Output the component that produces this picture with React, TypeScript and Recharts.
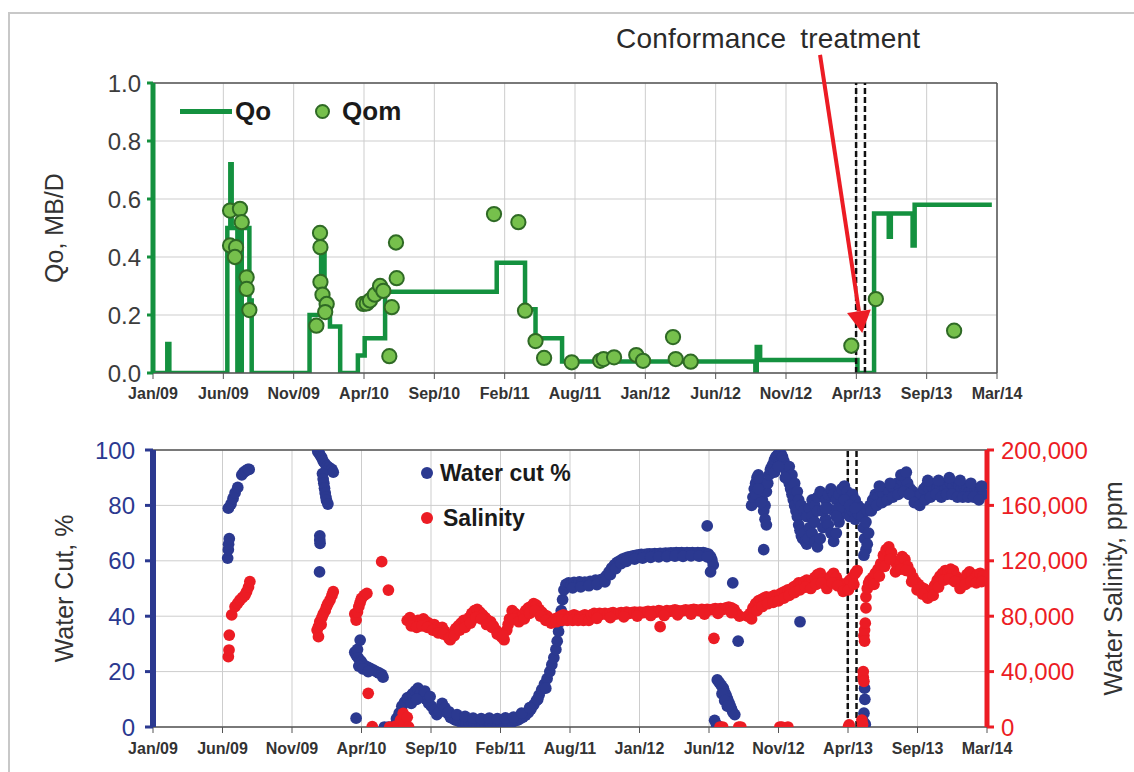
import {
  ComposedChart,
  Line,
  Scatter,
  XAxis,
  YAxis,
  ZAxis,
  CartesianGrid,
  ReferenceLine,
} from 'recharts';

type Row = [number, number];

// Date axis: months since Jan 2009, 12 equal intervals up to Mar 2014
const tickLabels = [
  'Jan/09', 'Jun/09', 'Nov/09', 'Apr/10', 'Sep/10', 'Feb/11', 'Aug/11',
  'Jan/12', 'Jun/12', 'Nov/12', 'Apr/13', 'Sep/13', 'Mar/14',
];
const monthSpan = 62;
const monthTicks = tickLabels.map((_, i) => (i * monthSpan) / (tickLabels.length - 1));

const qoTicks = [0, 0.2, 0.4, 0.6, 0.8, 1.0];
const waterCutTicks = [0, 20, 40, 60, 80, 100];
const salinityTicks = [0, 40, 80, 120, 160, 200]; // thousand ppm

// Conformance treatment window (months)
const treatmentMonths = [51.65, 52.3];

// Qo allocation, MB/D – value holds until the next change
const qoSteps: Row[] = [
  [0, 0], [1.05, 0.1], [1.2, 0],
  [5.46, 0.5], [5.68, 0.72], [5.78, 0.5], [6.2, 0], [6.52, 0.5], [7.08, 0.25], [7.25, 0],
  [11.5, 0.2], [12.35, 0.42], [12.6, 0.2], [13.0, 0.16], [13.75, 0],
  [15.05, 0.06], [15.55, 0.12], [17.05, 0.28],
  [25.25, 0.38], [27.33, 0.22], [28.1, 0.12], [30.05, 0.04],
  [44.25, 0], [44.35, 0.09], [44.6, 0.045],
  [51.75, 0], [52.97, 0.55],
  [54.05, 0.47], [54.2, 0.55], [55.8, 0.44], [55.95, 0.58],
  [61.62, 0.58],
];

// Qom measured rates, MB/D
const qomSamples: Row[] = [
  [5.66, 0.56], [6.39, 0.566], [6.52, 0.52], [5.66, 0.44], [6.1, 0.434], [6.02, 0.4],
  [6.88, 0.33], [6.88, 0.29], [7.08, 0.217],
  [12.27, 0.483], [12.3, 0.434], [12.3, 0.314], [12.45, 0.27], [12.76, 0.238], [12.65, 0.21], [12.0, 0.163],
  [15.45, 0.238], [15.7, 0.24], [15.94, 0.25], [16.3, 0.27], [16.68, 0.3], [16.92, 0.283],
  [17.85, 0.45], [17.9, 0.327], [17.54, 0.227], [17.36, 0.058],
  [25.05, 0.548], [26.84, 0.52], [27.33, 0.215], [28.1, 0.11], [28.73, 0.052],
  [30.76, 0.037], [32.85, 0.042], [33.1, 0.048], [33.87, 0.054], [35.5, 0.062], [36.0, 0.042],
  [38.2, 0.124], [38.4, 0.048], [39.5, 0.039],
  [51.3, 0.094], [53.1, 0.255], [58.85, 0.146],
];

// Water cut, %
const waterCut: Row[] = [
  // 2009 tests
  [5.55, 61], [5.6, 64], [5.62, 66], [5.67, 68], [5.6, 79], [5.8, 80.5], [5.95, 82.5], [6.1, 84.5],
  [6.3, 86.5], [6.6, 91], [6.75, 92], [6.9, 92.5], [7.05, 93], [7.15, 93],
  [12.25, 99.5], [12.35, 98.8], [12.45, 98], [12.55, 97.2], [12.65, 96], [12.8, 95], [12.95, 94.2],
  [13.1, 93.6], [13.3, 93], [13.4, 92], [12.6, 91.5], [12.65, 89.5], [12.7, 88], [12.75, 86.2],
  [12.8, 84.5], [12.85, 83], [12.9, 81.8], [13.0, 80.5], [12.4, 69], [12.4, 67.5], [12.42, 66.3], [12.38, 56],
  // 2010 restart
  [15.1, 3.2], [15.0, 27], [15.1, 26], [15.2, 28], [15.4, 31.4], [15.25, 25], [15.4, 24], [15.5, 23.5],
  [15.6, 22.5], [15.8, 22], [16.0, 21.5], [16.2, 21], [16.4, 20.5], [16.6, 20], [16.8, 19.5], [17.0, 19],
  [17.1, 18], [15.3, 22], [15.6, 21], [16.0, 20],
  [17.2, 0], [17.5, 0], [17.9, 0.3],
  [18.1, 3], [18.3, 5], [18.5, 7.5], [18.7, 9], [18.9, 10.5], [19.1, 11], [19.3, 12], [19.5, 13],
  [19.7, 14], [19.9, 12.5], [20.1, 11], [20.3, 10], [20.5, 8.5], [20.7, 7.5], [20.9, 6], [21.1, 4.5],
  [21.3, 5.5], [21.5, 8.5], [21.7, 7], [21.9, 5], [22.1, 3.5], [22.3, 3], [22.5, 2.5], [22.7, 2.2],
  [22.9, 1.8], [23.1, 2], [23.3, 1.6], [23.5, 1.4], [23.7, 1.8], [23.9, 1.2], [24.1, 1], [24.3, 1.3],
  [24.5, 0.9], [24.7, 1.2], [24.9, 1.5], [25.1, 1], [25.3, 1.3], [25.5, 1.7], [25.7, 1.1], [25.9, 1.4],
  [26.1, 1], [26.3, 1.2], [26.5, 1.5], [26.7, 1.8], [26.9, 2.2], [27.1, 2.5], [27.3, 3], [27.5, 3.6],
  [27.7, 4.3], [27.9, 5.2], [28.1, 6.5], [28.3, 8], [28.5, 9.5], [28.7, 11.5], [28.9, 13.5], [29.1, 15.5],
  [29.3, 17.5], [29.5, 20], [29.65, 22.5], [29.8, 25], [29.95, 28], [30.05, 31], [30.15, 34.5],
  [30.25, 38], [30.35, 42], [30.45, 46], [30.55, 49.5], [30.7, 51.5],
  [19.2, 8.5], [19.6, 10], [20.2, 13], [20.6, 11], [22.0, 5.5], [22.6, 4.5], [23.2, 3.8], [23.8, 3.2],
  [24.4, 3], [25.0, 3.2], [25.6, 3], [26.2, 3.3], [26.8, 3.6], [27.4, 5], [28.0, 7], [28.6, 10], [29.2, 14],
  // 2011-2012 plateau
  [30.9, 52], [31.1, 51.3], [31.3, 52.2], [31.5, 51.6], [31.7, 52.4], [31.9, 51.8], [32.1, 52.3],
  [32.3, 52], [32.5, 52.6], [32.7, 52.4], [32.9, 53], [33.1, 52.6], [33.3, 53.2], [33.5, 53.6],
  [33.7, 54.6], [33.9, 56], [34.1, 57.4], [34.3, 58.5], [34.5, 59.4], [34.7, 60], [34.9, 60.6],
  [35.1, 61], [35.3, 61.3], [35.5, 61.5], [35.7, 61.8], [35.9, 62], [36.1, 62.1], [36.3, 62.3],
  [36.5, 62.2], [36.7, 62.4], [36.9, 62.5], [37.1, 62.4], [37.3, 62.6], [37.5, 62.5], [37.7, 62.7],
  [37.9, 62.6], [38.1, 62.8], [38.3, 62.7], [38.5, 62.9], [38.7, 62.8], [38.9, 63], [39.1, 62.9],
  [39.3, 63], [39.5, 62.8], [39.7, 63], [39.9, 62.9], [40.1, 63], [40.3, 62.8], [40.5, 63], [40.7, 62.9],
  [40.9, 63], [41.1, 62.7], [41.3, 62.4], [41.45, 61.5], [41.55, 60.3], [41.65, 58.5],
  [31.2, 50.2], [31.8, 50.6], [32.4, 51], [33.0, 51.4], [33.6, 52.4], [34.0, 55], [34.4, 57.2],
  [34.8, 59], [35.2, 59.8], [35.8, 60.6], [36.4, 61], [37.0, 61.2], [37.6, 61.4], [38.2, 61.5],
  [38.8, 61.7], [39.4, 61.6], [40.0, 61.8], [40.6, 61.7], [41.2, 61.4],
  // mid-2012 shut-in
  [41.2, 72.6], [41.45, 56], [43.1, 52], [43.5, 31], [45.4, 64], [48.1, 38],
  [41.75, 2.4], [41.9, 0.8], [42.05, 0.3], [41.95, 17], [42.1, 16], [42.25, 15], [42.4, 14], [42.5, 12.5],
  [42.6, 11.5], [42.7, 10.2], [42.8, 9], [42.9, 7.8], [43.0, 6.6], [43.1, 5.4], [43.25, 4.5],
  [42.3, 12], [42.5, 9.5], [42.7, 7.5],
  // late 2012 - early 2013
  [44.5, 80], [44.6, 83], [44.7, 86], [44.8, 88], [44.9, 90], [45.0, 91], [45.1, 89], [45.2, 86],
  [45.3, 82], [45.4, 78], [45.5, 75], [45.6, 73], [45.5, 80], [45.6, 85], [45.7, 88], [45.8, 91],
  [45.9, 93], [46.0, 94], [46.1, 95], [46.2, 96.5], [46.3, 97.5], [46.4, 98], [46.5, 98.5], [46.6, 99],
  [46.7, 98.5], [46.8, 97.5], [46.9, 96], [47.0, 94], [47.1, 92], [47.2, 90], [47.3, 88], [47.4, 86],
  [47.5, 84], [47.6, 82], [47.7, 80], [47.8, 78], [47.9, 76], [48.0, 73], [48.1, 71], [48.2, 69],
  [48.3, 68], [48.4, 70], [48.5, 67], [48.6, 66], [48.7, 68],
  [47.3, 94], [47.5, 91], [47.7, 88], [47.9, 85], [48.0, 82], [48.2, 80], [48.4, 78], [48.6, 76],
  [48.8, 79], [49.0, 82], [49.2, 80], [49.4, 83], [49.6, 85], [49.8, 84], [50.0, 82], [50.2, 84],
  [50.4, 86], [50.6, 84], [50.8, 82], [51.0, 84], [51.2, 86], [51.4, 87], [51.6, 85], [51.8, 83],
  [52.0, 84], [52.2, 82], [52.4, 80],
  [48.8, 72], [49.0, 70], [49.2, 67], [49.4, 65], [49.6, 68], [49.8, 72], [50.0, 75], [50.2, 73],
  [50.4, 70], [50.6, 67], [50.8, 70], [51.0, 74], [51.2, 77], [51.4, 79], [51.6, 77], [51.8, 76],
  [52.0, 78], [52.2, 75], [52.4, 77], [52.6, 79],
  [49.0, 76], [49.4, 78], [49.8, 78], [50.2, 79], [50.6, 78], [51.0, 79], [51.4, 82], [51.8, 80], [52.2, 79],
  [44.8, 84], [45.0, 86], [45.2, 81], [46.2, 92], [46.5, 94], [47.0, 90], [49.2, 74], [50.0, 79], [50.8, 76],
  // around the treatment
  [52.7, 76], [52.8, 72], [52.9, 68], [53.0, 64], [53.1, 66], [53.2, 70], [53.0, 74], [53.1, 78],
  [52.85, 62], [52.9, 14], [52.92, 10], [52.85, 5], [52.8, 2], [52.95, 1],
  // after treatment
  [53.3, 80], [53.5, 82], [53.7, 84], [53.9, 83], [54.1, 85], [54.3, 84], [54.5, 86], [54.7, 85],
  [54.9, 87], [55.1, 86], [55.3, 88], [55.5, 87], [55.7, 89], [55.9, 90], [56.1, 88], [56.3, 86],
  [56.5, 85], [56.7, 83], [56.9, 82], [57.1, 84], [57.3, 86], [57.5, 87], [57.7, 86], [57.9, 87],
  [58.1, 88], [58.3, 86], [58.5, 87], [58.7, 88], [58.9, 86], [59.1, 87], [59.3, 88], [59.5, 87],
  [59.7, 86], [59.9, 87], [60.1, 86], [60.3, 87], [60.5, 86], [60.7, 85], [60.9, 86], [61.1, 85],
  [61.3, 86], [61.5, 85], [61.7, 84],
  [53.4, 78], [53.8, 80], [54.2, 81], [54.6, 82], [55.0, 83], [55.4, 84], [55.8, 85], [56.2, 84],
  [56.6, 81], [57.0, 80], [57.4, 82], [57.8, 83], [58.2, 84], [58.6, 83], [59.0, 84], [59.4, 84],
  [59.8, 83], [60.2, 83], [60.6, 83], [61.0, 83], [61.4, 82],
  [54.0, 87], [54.8, 88], [55.6, 91], [56.0, 92], [57.6, 89], [58.4, 89], [59.2, 90], [60.0, 89],
  [60.8, 88], [61.6, 87],
];

// Produced water salinity, thousand ppm
const salinity: Row[] = [
  // 2009 tests
  [5.6, 50.8], [5.65, 55.6], [5.67, 66.4], [5.85, 80.9], [6.1, 86.9], [6.3, 89.5], [6.47, 91.7],
  [6.65, 93.5], [6.84, 95.3], [6.95, 97.5], [7.1, 101], [7.2, 105],
  [12.2, 70], [12.3, 65.2], [12.3, 72.5], [12.4, 76], [12.5, 74], [12.55, 79], [12.66, 81.6],
  [12.8, 84], [12.9, 86.9], [13.0, 89], [13.16, 91.7], [13.3, 95], [13.4, 97.7],
  // 2010 restart
  [15.0, 81.6], [15.1, 77.2], [15.2, 83], [15.3, 86.9], [15.4, 90], [15.5, 92.9], [15.7, 95],
  [15.9, 96.5], [16.0, 24.3], [16.3, 0.3], [17.0, 119.4], [17.5, 98.9],
  [17.6, 0], [18.0, 0.5], [18.2, 1], [18.4, 5], [18.6, 9.9], [18.7, 2], [18.9, 7], [19.0, 0],
  [18.9, 77], [19.1, 79], [19.3, 76], [19.5, 74], [19.7, 77], [19.9, 75], [20.1, 78], [20.3, 76],
  [20.5, 75], [20.7, 73], [20.9, 74], [21.1, 72], [21.3, 70], [21.5, 72], [21.7, 69], [21.9, 66],
  [22.1, 63], [22.3, 67], [22.5, 71], [22.7, 73], [22.9, 75], [23.1, 77], [23.3, 76], [23.5, 79],
  [23.7, 82], [23.9, 84], [24.1, 85], [24.3, 83], [24.5, 81], [24.7, 79], [24.9, 77], [25.1, 76],
  [25.3, 73], [25.5, 70], [25.7, 68], [25.9, 65], [26.1, 63], [26.3, 70], [26.5, 78], [26.7, 84],
  [26.9, 82], [27.1, 80], [27.3, 79], [27.5, 81], [27.7, 84], [27.9, 86], [28.1, 87], [28.3, 89],
  [28.5, 88], [28.7, 85], [28.9, 83], [29.1, 81], [29.3, 80], [29.5, 78], [29.7, 77], [29.9, 78],
  [30.1, 79], [30.3, 80], [30.5, 81], [30.7, 80], [30.9, 79], [31.1, 80], [31.3, 81], [31.5, 80],
  [31.7, 79], [31.9, 80], [32.1, 81], [32.3, 80],
  [19.2, 73], [19.6, 72], [20.0, 73], [20.4, 72], [20.8, 70], [21.2, 68], [21.6, 67], [22.0, 64],
  [22.4, 66], [22.8, 70], [23.2, 72], [23.6, 75], [24.0, 79], [24.4, 78], [24.8, 74], [25.2, 72],
  [25.6, 67], [26.0, 66], [26.4, 74], [26.8, 78], [27.2, 76], [27.6, 78], [28.0, 82], [28.4, 84],
  [28.8, 80], [29.2, 77], [29.6, 75], [30.0, 76], [30.4, 77], [30.8, 77], [31.2, 77], [31.6, 77],
  [32.0, 77], [32.4, 77],
  // 2011-2012 plateau
  [32.6, 81], [32.8, 82], [33.0, 81], [33.2, 82], [33.4, 81.5], [33.6, 82], [33.8, 81], [34.0, 82],
  [34.2, 82.5], [34.4, 81.5], [34.6, 82], [34.8, 82.5], [35.0, 82], [35.2, 83], [35.4, 82],
  [35.6, 82.5], [35.8, 83], [36.0, 82.5], [36.2, 83], [36.4, 82.5], [36.6, 83], [36.8, 83.5],
  [37.0, 83], [37.2, 83.5], [37.4, 83], [37.6, 84], [37.8, 83.5], [38.0, 83], [38.2, 84], [38.4, 83.5],
  [38.6, 84], [38.8, 84.5], [39.0, 84], [39.2, 83.5], [39.4, 84], [39.6, 84.5], [39.8, 84], [40.0, 84.5],
  [40.2, 85], [40.4, 84.5], [40.6, 84], [40.8, 85], [41.0, 84.5], [41.2, 85], [41.4, 84.5], [41.6, 85],
  [41.8, 85.5], [42.0, 85], [42.2, 85.5], [42.4, 85], [42.6, 86], [42.8, 86.5], [43.0, 86], [43.2, 85],
  [43.4, 82], [43.6, 80],
  [33.0, 78.5], [34.0, 79], [35.0, 79.5], [36.0, 80], [37.0, 80.5], [38.0, 80.5], [39.0, 81],
  [40.0, 81.5], [41.0, 81.5], [42.0, 82], [43.0, 82.5],
  [37.7, 72.4], [41.7, 64],
  [42.15, 0], [42.35, 0], [43.55, 0], [43.7, 0], [46.6, 0], [46.75, 0], [47.2, 0],
  // late 2012 - early 2013
  [44.2, 80], [44.4, 82], [44.6, 86], [44.8, 89], [45.0, 91], [45.2, 92], [45.4, 93], [45.6, 94],
  [45.8, 93], [46.0, 94], [46.2, 95], [46.4, 94], [46.6, 96], [46.8, 97], [47.0, 98], [47.2, 99],
  [47.4, 99], [47.6, 101], [47.8, 102], [48.0, 104], [48.2, 103], [48.4, 105], [48.6, 106], [48.8, 104],
  [49.0, 106], [49.2, 108], [49.4, 110], [49.6, 111], [49.8, 107], [50.0, 104], [50.2, 106], [50.4, 109],
  [50.6, 111], [50.8, 108], [51.0, 104], [51.2, 103], [51.4, 101], [51.6, 104], [51.8, 106], [52.0, 108],
  [52.2, 111], [52.35, 113],
  [44.5, 78], [44.9, 84], [45.3, 87], [45.7, 89], [46.1, 90], [46.5, 91], [46.9, 93], [47.3, 95],
  [47.7, 97], [48.1, 99], [48.5, 101], [48.9, 100], [49.3, 103], [49.7, 104], [50.1, 100], [50.5, 104],
  [50.9, 102], [51.3, 98], [51.7, 99], [52.1, 103],
  // around the treatment
  [51.7, 0], [51.75, 1.5], [52.7, 5], [52.75, 2], [52.8, 36], [52.8, 40], [52.85, 33], [52.85, 66],
  [52.9, 70], [52.9, 62], [52.95, 75], [53.0, 86], [53.0, 94], [53.1, 100], [53.2, 104],
  // after treatment
  [53.3, 106], [53.5, 108], [53.7, 111], [53.9, 114], [54.1, 118], [54.3, 124], [54.5, 128], [54.7, 130],
  [54.9, 126], [55.1, 120], [55.3, 117], [55.5, 120], [55.7, 123], [55.9, 121], [56.1, 116], [56.3, 112],
  [56.5, 108], [56.7, 105], [56.9, 103], [57.1, 101], [57.3, 100], [57.5, 98], [57.7, 97], [57.9, 99],
  [58.1, 102], [58.3, 106], [58.5, 109], [58.7, 111], [58.9, 113], [59.1, 112], [59.3, 114], [59.5, 113],
  [59.7, 109], [59.9, 106], [60.1, 104], [60.3, 107], [60.5, 110], [60.7, 112], [60.9, 110], [61.1, 108],
  [61.3, 110], [61.5, 111], [61.7, 109],
  [53.6, 103], [54.0, 109], [54.4, 116], [54.8, 121], [55.2, 112], [55.6, 114], [56.0, 113], [56.4, 105],
  [56.8, 99], [57.2, 96], [57.6, 93], [58.0, 95], [58.4, 101], [58.8, 106], [59.2, 107], [59.6, 105],
  [60.0, 100], [60.4, 103], [60.8, 105], [61.2, 104], [61.6, 105],
];

const toPoints = (rows: Row[]) => rows.map(([m, v]) => ({ m, v }));

const FONT = '"Liberation Sans", Arial, Helvetica, sans-serif';
const GREEN = '#14913f';
const QOM_FILL = '#76c04c';
const QOM_EDGE = '#2f6a25';
const BLUE = '#2b3990';
const RED = '#ec1c24';
const GRID = '#cdcdcd';
const FRAME = '#555555';
const TEXT = '#333333';

const monthLabel = (v: number) =>
  tickLabels[Math.round((v * (tickLabels.length - 1)) / monthSpan)] ?? '';

const xTick = { fontSize: 16, fontWeight: 'bold', fill: TEXT };

// rotated axis title centred on the plot height
const axisTitle = (text: string, x: number) => (props: any) => {
  const vb = props.viewBox;
  const cy = vb.y + vb.height / 2;
  return (
    <text
      x={x}
      y={cy}
      transform={`rotate(-90 ${x} ${cy})`}
      textAnchor="middle"
      dominantBaseline="central"
      fontSize={25}
      fill={TEXT}
    >
      {text}
    </text>
  );
};

const renderArrow = (props: any) => {
  const { x1, y1, x2, y2 } = props;
  const a = Math.atan2(y2 - y1, x2 - x1);
  const len = 22;
  const half = 12;
  const bx = x2 - len * Math.cos(a);
  const by = y2 - len * Math.sin(a);
  const px = -Math.sin(a) * half;
  const py = Math.cos(a) * half;
  return (
    <g>
      <line x1={x1} y1={y1} x2={bx} y2={by} stroke={RED} strokeWidth={4} />
      <polygon points={`${x2},${y2} ${bx + px},${by + py} ${bx - px},${by - py}`} fill={RED} />
    </g>
  );
};

function ProductionChart() {
  return (
    <ComposedChart width={1134} height={410} margin={{ top: 83, right: 137, bottom: 0, left: 0 }}>
      <CartesianGrid stroke={GRID} />
      <XAxis
        type="number"
        dataKey="m"
        domain={[0, monthSpan]}
        ticks={monthTicks}
        interval={0}
        tickFormatter={monthLabel}
        allowDataOverflow
        height={37}
        tick={xTick}
        tickSize={6}
        tickMargin={9}
        axisLine={{ stroke: FRAME, strokeWidth: 1.5 }}
        tickLine={{ stroke: FRAME }}
      />
      <YAxis
        type="number"
        domain={[0, 1]}
        ticks={qoTicks}
        interval={0}
        allowDataOverflow
        width={153}
        tickFormatter={(v: number) => v.toFixed(1)}
        tick={{ fontSize: 24, fill: '#3c3c3c' }}
        tickSize={6}
        tickMargin={6}
        axisLine={{ stroke: GREEN, strokeWidth: 5 }}
        tickLine={{ stroke: GREEN, strokeWidth: 3 }}
        label={{ content: axisTitle('Qo, MB/D', 54) }}
      />
      <ZAxis range={[160, 160]} />
      <ReferenceLine y={1} stroke={FRAME} strokeWidth={1.5} />
      <ReferenceLine x={monthSpan} stroke={FRAME} strokeWidth={1.5} />
      <Line
        data={toPoints(qoSteps)}
        dataKey="v"
        type="stepAfter"
        stroke={GREEN}
        strokeWidth={4.5}
        dot={false}
        isAnimationActive={false}
      />
      <Scatter
        data={toPoints(qomSamples)}
        dataKey="v"
        fill={QOM_FILL}
        stroke={QOM_EDGE}
        strokeWidth={2}
        isAnimationActive={false}
      />
      {treatmentMonths.map((m) => (
        <ReferenceLine key={m} x={m} stroke="#111" strokeWidth={2.5} strokeDasharray="6 3" />
      ))}
      <ReferenceLine
        segment={[{ x: 49.0, y: 1.097 }, { x: 52.1, y: 0.138 }]}
        ifOverflow="visible"
        shape={renderArrow}
      />
    </ComposedChart>
  );
}

function WaterChart() {
  return (
    <ComposedChart width={1134} height={362} margin={{ top: 40, right: 0, bottom: 0, left: 0 }}>
      <CartesianGrid stroke={GRID} yAxisId="wc" />
      <XAxis
        type="number"
        dataKey="m"
        domain={[0, monthSpan]}
        ticks={monthTicks}
        interval={0}
        tickFormatter={monthLabel}
        allowDataOverflow
        height={45}
        tick={xTick}
        tickSize={6}
        tickMargin={10}
        axisLine={{ stroke: FRAME, strokeWidth: 1.5 }}
        tickLine={{ stroke: FRAME }}
      />
      <YAxis
        yAxisId="wc"
        type="number"
        domain={[0, 100]}
        ticks={waterCutTicks}
        interval={0}
        allowDataOverflow
        width={153}
        tick={{ fontSize: 24, fill: BLUE }}
        tickSize={8}
        tickMargin={10}
        axisLine={{ stroke: BLUE, strokeWidth: 6 }}
        tickLine={{ stroke: BLUE, strokeWidth: 3 }}
        label={{ content: axisTitle('Water Cut, %', 64) }}
      />
      <YAxis
        yAxisId="sal"
        orientation="right"
        type="number"
        domain={[0, 200]}
        ticks={salinityTicks}
        interval={0}
        allowDataOverflow
        width={147}
        tickFormatter={(v: number) => (v * 1000).toLocaleString('en-US')}
        tick={{ fontSize: 24, fill: RED }}
        tickSize={7}
        tickMargin={7}
        axisLine={{ stroke: RED, strokeWidth: 5 }}
        tickLine={{ stroke: RED, strokeWidth: 3 }}
        label={{ content: axisTitle('Water Salinity, ppm', 1113) }}
      />
      <ZAxis range={[108, 108]} />
      <ReferenceLine yAxisId="wc" y={100} stroke={FRAME} strokeWidth={1.5} />
      <Scatter
        yAxisId="wc"
        data={toPoints(waterCut)}
        dataKey="v"
        fill={BLUE}
        isAnimationActive={false}
      />
      <Scatter
        yAxisId="sal"
        data={toPoints(salinity)}
        dataKey="v"
        fill={RED}
        isAnimationActive={false}
      />
      {treatmentMonths.map((m) => (
        <ReferenceLine
          key={m}
          yAxisId="wc"
          x={m}
          stroke="#111"
          strokeWidth={2.5}
          strokeDasharray="6 3"
        />
      ))}
    </ComposedChart>
  );
}

function Dot({ color, edge, size }: { color: string; edge?: string; size: number }) {
  return (
    <span
      style={{
        display: 'inline-block',
        width: size,
        height: size,
        borderRadius: '50%',
        background: color,
        border: edge ? `2px solid ${edge}` : 'none',
        boxSizing: 'border-box',
      }}
    />
  );
}

export default function App() {
  return (
    <div
      style={{
        position: 'absolute',
        left: 0,
        top: 0,
        width: 1134,
        height: 772,
        overflow: 'hidden',
        background: '#fff',
        fontFamily: FONT,
        color: '#1a1a1a',
      }}
    >
      <div
        style={{
          position: 'absolute',
          left: 8,
          top: 12,
          width: 1140,
          height: 780,
          borderLeft: '2px solid #c8c8c8',
          borderTop: '2px solid #c8c8c8',
        }}
      />
      <div style={{ position: 'absolute', left: 0, top: 0 }}>
        <ProductionChart />
      </div>
      <div style={{ position: 'absolute', left: 0, top: 410 }}>
        <WaterChart />
      </div>

      <div
        style={{
          position: 'absolute',
          left: 616,
          top: 23,
          fontSize: 28,
          wordSpacing: 6,
          letterSpacing: 0.2,
          color: '#2a2a2a',
          whiteSpace: 'nowrap',
        }}
      >
        Conformance treatment
      </div>

      <div
        style={{
          position: 'absolute',
          left: 180,
          top: 96,
          height: 30,
          display: 'flex',
          alignItems: 'center',
          fontSize: 26,
          fontWeight: 'bold',
        }}
      >
        <span style={{ display: 'inline-block', width: 52, height: 5, background: GREEN }} />
        <span style={{ marginLeft: 3 }}>Qo</span>
        <span style={{ marginLeft: 44, display: 'flex' }}>
          <Dot color={QOM_FILL} edge={QOM_EDGE} size={15} />
        </span>
        <span style={{ marginLeft: 12 }}>Qom</span>
      </div>

      <div style={{ position: 'absolute', left: 421, top: 458, fontSize: 23, fontWeight: 'bold' }}>
        <div style={{ height: 30, display: 'flex', alignItems: 'center' }}>
          <Dot color={BLUE} size={12} />
          <span style={{ marginLeft: 7 }}>Water cut %</span>
        </div>
        <div style={{ height: 30, marginTop: 15, display: 'flex', alignItems: 'center' }}>
          <Dot color={RED} size={12} />
          <span style={{ marginLeft: 10 }}>Salinity</span>
        </div>
      </div>
    </div>
  );
}
